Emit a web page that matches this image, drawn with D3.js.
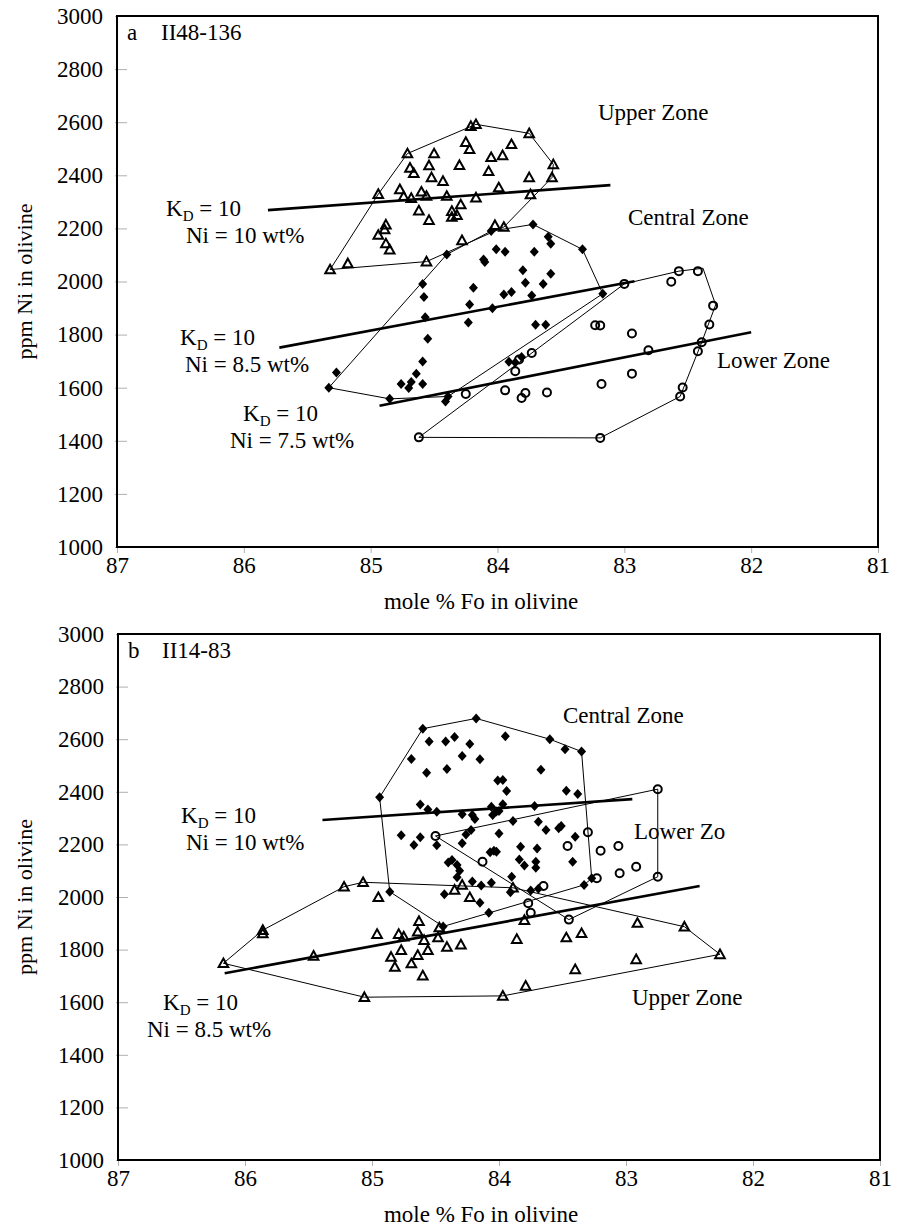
<!DOCTYPE html>
<html><head><meta charset="utf-8">
<script src="https://cdn.jsdelivr.net/npm/d3@7"></script>
<style>
body{margin:0;background:#fff}
svg text{font-family:"Liberation Serif","Times New Roman",Times,serif !important;fill:#000;white-space:pre}
</style>
</head><body>
<svg id="chart" width="899" height="1229" font-family="Liberation Serif, serif"></svg>
<script>
// ---------- shared ticks ----------
const xTicks = [87, 86, 85, 84, 83, 82, 81];
const yTicks = [1000, 1200, 1400, 1600, 1800, 2000, 2200, 2400, 2600, 2800, 3000];
const xTitle = "mole % Fo in olivine";
const yTitle = "ppm Ni in olivine";

// ---------- panel a : II48-136 ----------
const aUpper = [[84.71,2482],[84.50,2482],[84.69,2428],[84.66,2408],[84.54,2437],[84.52,2392],[84.43,2378],[84.77,2347],[84.94,2329],[84.74,2320],[84.68,2314],[84.60,2338],[84.56,2322],[84.40,2322],[84.62,2267],[84.54,2231],[84.88,2214],[84.89,2196],[84.94,2175],[84.88,2143],[84.85,2120],[85.32,2045],[85.18,2068],[84.56,2075],[84.17,2316],[83.99,2354],[83.74,2328],[84.36,2265],[84.29,2290],[84.36,2243],[84.32,2250],[84.02,2212],[83.95,2205],[84.28,2155],[84.21,2585],[84.17,2592],[83.75,2558],[83.89,2517],[83.96,2475],[84.05,2468],[84.25,2525],[84.22,2498],[83.56,2441],[83.57,2392],[83.75,2392],[84.07,2415],[84.30,2438]];
const aCentral = [[83.72,2215],[83.60,2169],[83.58,2142],[83.33,2121],[83.17,1954],[84.05,2190],[84.40,2102],[84.01,2121],[83.94,2112],[83.71,2112],[84.11,2083],[84.10,2073],[83.80,2042],[83.58,2029],[83.78,1995],[83.64,1991],[84.19,1976],[83.95,1951],[83.89,1960],[83.73,1947],[84.59,1991],[84.58,1942],[84.22,1913],[84.04,1899],[84.57,1865],[84.23,1846],[83.70,1837],[83.62,1837],[84.55,1784],[84.59,1699],[84.64,1653],[84.76,1614],[84.68,1621],[84.70,1599],[84.59,1614],[84.85,1558],[84.39,1567],[84.41,1548],[83.91,1698],[83.86,1695],[83.81,1716],[85.33,1600],[85.27,1657]];
const aLower = [[83.00,1991],[82.57,2039],[82.42,2039],[82.63,1999],[82.30,1909],[82.33,1838],[82.39,1771],[82.42,1737],[82.81,1741],[82.94,1804],[83.23,1835],[83.19,1834],[82.94,1653],[83.18,1614],[82.54,1601],[82.56,1567],[83.19,1411],[83.73,1731],[83.86,1662],[83.83,1706],[84.25,1576],[83.94,1590],[83.81,1561],[83.78,1580],[83.61,1582],[84.62,1413]];
const aUpperHull = [[85.32,2045],[84.94,2329],[84.71,2482],[84.17,2592],[83.75,2558],[83.56,2441],[83.57,2392],[83.95,2205],[84.56,2075],[85.32,2045]];
const aCentralHull = [[85.33,1600],[84.40,2102],[84.05,2190],[83.72,2215],[83.33,2121],[83.17,1954],[84.39,1567],[84.85,1558],[85.33,1600]];
const aLowerHull = [[84.62,1413],[83.00,1991],[82.57,2039],[82.38,2050],[82.28,1912],[82.39,1771],[82.56,1567],[83.19,1411],[84.62,1413]];
const aKdLines = [[[85.81,2269],[83.11,2363]],[[85.72,1751],[82.92,2001]],[[84.93,1532],[82.00,1809]]];
const aKdNi = ["Ni = 10 wt%", "Ni = 8.5 wt%", "Ni = 7.5 wt%"];
const aZones = ["Upper Zone", "Central Zone", "Lower Zone"];

// ---------- panel b : II14-83 ----------
const bUpper = [[86.17,1748],[85.86,1874],[85.86,1861],[85.22,2039],[85.07,2056],[84.95,1999],[85.46,1776],[85.06,1619],[84.96,1859],[84.79,1859],[84.75,1849],[84.64,1868],[84.63,1908],[84.59,1836],[84.48,1846],[84.47,1884],[84.41,1810],[84.30,1819],[84.77,1798],[84.85,1772],[84.64,1779],[84.56,1798],[84.82,1734],[84.69,1747],[84.60,1701],[84.35,2027],[84.29,2046],[84.23,1999],[83.97,1624],[83.79,1662],[83.40,1725],[82.92,1763],[82.26,1782],[82.54,1887],[82.91,1901],[83.47,1846],[83.35,1862],[83.86,1840],[83.80,1912],[83.89,2035]];
const bCentral = [[84.18,2679],[84.60,2640],[83.60,2600],[83.48,2562],[83.35,2553],[84.94,2379],[84.86,2020],[84.44,1888],[83.33,2046],[83.27,2071],[84.55,2591],[84.42,2591],[84.35,2608],[84.23,2582],[83.95,2611],[84.69,2525],[84.29,2536],[84.15,2524],[84.57,2472],[84.41,2487],[83.67,2484],[84.01,2443],[83.97,2445],[83.94,2403],[83.47,2404],[83.38,2392],[84.62,2352],[84.56,2333],[84.49,2324],[84.06,2343],[83.97,2353],[83.72,2346],[84.29,2315],[84.21,2312],[84.19,2297],[84.05,2312],[84.02,2325],[84.00,2327],[83.89,2289],[83.69,2286],[84.22,2255],[83.63,2255],[83.53,2261],[83.51,2270],[84.77,2235],[84.62,2227],[84.67,2198],[84.26,2238],[84.00,2241],[83.40,2229],[84.49,2197],[84.29,2204],[84.07,2170],[84.04,2176],[84.02,2172],[83.83,2191],[83.70,2184],[83.84,2143],[83.80,2120],[83.71,2134],[83.71,2111],[84.40,2131],[84.37,2141],[84.33,2122],[84.31,2100],[84.33,2075],[83.42,2134],[83.90,2077],[84.21,2059],[84.14,2044],[84.06,2054],[83.75,2025],[83.69,2031],[83.91,2018],[84.43,2010],[84.15,1978],[84.08,1940]];
const bLower = [[84.50,2232],[83.30,2246],[83.46,2194],[83.20,2176],[83.06,2194],[84.13,2134],[83.65,2042],[83.77,1976],[83.75,1940],[83.45,1914],[83.23,2071],[83.05,2090],[82.92,2115],[82.75,2410],[82.75,2077]];
const bUpperHull = [[86.17,1748],[85.86,1874],[85.22,2039],[85.07,2056],[83.89,2035],[82.54,1887],[82.26,1782],[83.97,1624],[85.06,1619],[86.17,1748]];
const bCentralHull = [[84.94,2379],[84.60,2640],[84.18,2679],[83.60,2600],[83.35,2553],[83.27,2071],[83.33,2046],[84.44,1888],[84.86,2020],[84.94,2379]];
const bLowerHull = [[84.50,2232],[82.75,2410],[82.75,2077],[83.45,1914],[84.50,2232]];
const bKdLines = [[[85.39,2293],[82.95,2372]],[[86.16,1710],[82.42,2042]]];
const bKdNi = ["Ni = 10 wt%", "Ni = 8.5 wt%"];
const bZones = ["Central Zone", "Lower Zo", "Upper Zone"];

const svg = d3.select("#chart");
const FS = 23;
const FF = '"Liberation Serif", "Times New Roman", serif';

function txt(g, x, y, s, size) {
  return g.append("text").attr("x", x).attr("y", y).attr("font-family", FF).attr("font-size", size || FS).text(s);
}

function kdLabel(g, x, y) {
  const t = g.append("text").attr("x", x).attr("y", y).attr("font-family", FF).attr("font-size", FS);
  t.append("tspan").text("K");
  t.append("tspan").attr("font-size", 15).attr("dy", 5).text("D");
  t.append("tspan").attr("dy", -5).text(" = 10");
}

function drawPanel(cfg) {
  const g = svg.append("g");
  const x = d3.scaleLinear().domain([87, 81]).range([cfg.left, cfg.right]);
  const y = d3.scaleLinear().domain([1000, 3000]).range([cfg.bottom, cfg.top]);

  const ax = g.append("g").attr("transform", `translate(0,${cfg.bottom})`)
    .call(d3.axisBottom(x).tickValues(xTicks).tickFormat(d3.format("d")).tickSizeInner(6).tickSizeOuter(0).tickPadding(4));
  const ay = g.append("g").attr("transform", `translate(${cfg.left},0)`)
    .call(d3.axisLeft(y).tickValues(yTicks).tickFormat(d3.format("d")).tickSizeInner(-10).tickSizeOuter(0).tickPadding(14));
  [ax, ay].forEach(a => {
    a.attr("font-family", FF).attr("font-size", FS);
    a.select(".domain").remove();
    a.selectAll(".tick line").attr("stroke", "#b0b0b0").attr("stroke-width", 1);
    a.selectAll(".tick text").attr("font-size", FS).attr("font-family", FF);
  });
  ay.selectAll(".tick line").attr("x1", -2);

  g.append("rect").attr("x", cfg.left).attr("y", cfg.top)
    .attr("width", cfg.right - cfg.left).attr("height", cfg.bottom - cfg.top)
    .attr("fill", "none").attr("stroke", "#000").attr("stroke-width", 2);

  const line = d3.line().x(d => x(d[0])).y(d => y(d[1]));
  cfg.hulls.forEach(h => g.append("path").attr("d", line(h)).attr("fill", "none").attr("stroke", "#000").attr("stroke-width", 1));
  cfg.kd.forEach(l => g.append("path").attr("d", line(l)).attr("fill", "none").attr("stroke", "#000").attr("stroke-width", 2.6));

  g.append("g").selectAll("path").data(cfg.tri).join("path")
    .attr("transform", d => `translate(${x(d[0])},${y(d[1])})`)
    .attr("d", "M0,-4.8L4.8,3.8L-4.8,3.8Z").attr("fill", "none").attr("stroke", "#000").attr("stroke-width", 2);
  g.append("g").selectAll("path").data(cfg.dia).join("path")
    .attr("transform", d => `translate(${x(d[0])},${y(d[1])})`)
    .attr("d", "M0,-5L4.5,0L0,5L-4.5,0Z").attr("fill", "#000");
  g.append("g").selectAll("circle").data(cfg.cir).join("circle")
    .attr("cx", d => x(d[0])).attr("cy", d => y(d[1])).attr("r", 4)
    .attr("fill", "none").attr("stroke", "#000").attr("stroke-width", 2);

  txt(g, cfg.left + 10, cfg.top + 24, cfg.letter);
  txt(g, cfg.left + 44, cfg.top + 24, cfg.sample);

  cfg.kdLab.forEach((p, i) => {
    kdLabel(g, p[0], p[1]);
    txt(g, p[2], p[1] + 27, cfg.ni[i]);
  });
  cfg.zoneLab.forEach((p, i) => txt(g, p[0], p[1], cfg.zones[i]));

  txt(g, 481, cfg.bottom + 62, xTitle).attr("text-anchor", "middle");
  g.append("text").attr("transform", `translate(32,${(cfg.top + cfg.bottom) / 2}) rotate(-90)`)
    .attr("text-anchor", "middle").attr("font-family", FF).attr("font-size", 22).text(yTitle);
}

drawPanel({
  left: 117, right: 878, top: 16, bottom: 547,
  letter: "a", sample: "II48-136",
  tri: aUpper, dia: aCentral, cir: aLower,
  hulls: [aUpperHull, aCentralHull, aLowerHull], kd: aKdLines,
  ni: aKdNi, kdLab: [[166, 216, 186], [180, 345, 185], [243, 421, 230]],
  zones: aZones, zoneLab: [[598, 120], [628, 225], [717, 368]]
});
drawPanel({
  left: 118, right: 880, top: 634, bottom: 1160,
  letter: "b", sample: "II14-83",
  tri: bUpper, dia: bCentral, cir: bLower,
  hulls: [bUpperHull, bCentralHull, bLowerHull], kd: bKdLines,
  ni: bKdNi, kdLab: [[181, 823, 186], [163, 1010, 147]],
  zones: bZones, zoneLab: [[563, 723], [634, 839], [632, 1005]]
});
</script>
</body></html>
